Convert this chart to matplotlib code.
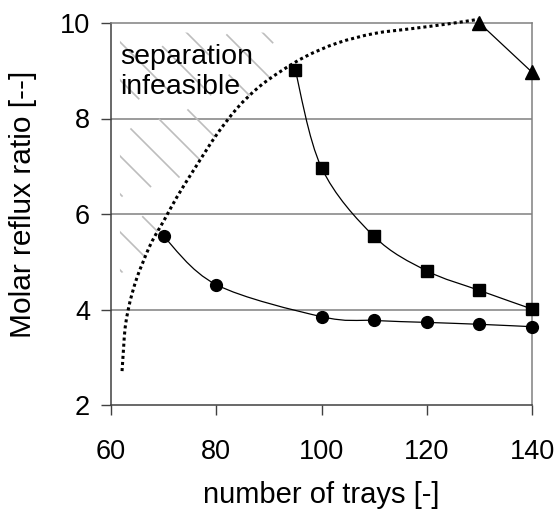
import numpy as np
import matplotlib
matplotlib.use("Agg")
import matplotlib.pyplot as plt
from matplotlib.path import Path
from matplotlib.patches import PathPatch, Polygon
from matplotlib.transforms import IdentityTransform

plt.rcParams["font.family"] = ["Liberation Sans", "DejaVu Sans"]
plt.rcParams["lines.scale_dashes"] = False

# --- data ---
trays_circle = [70, 80, 100, 110, 120, 130, 140]
reflux_circle = [5.53, 4.52, 3.85, 3.77, 3.73, 3.69, 3.64]

trays_square = [95, 100, 110, 120, 130, 140]
reflux_square = [9.02, 6.97, 5.53, 4.81, 4.40, 4.01]

trays_triangle = [130, 140]
reflux_triangle = [10.0, 8.97]

# minimum reflux boundary (dotted)
trays_min = [62.1, 62.4, 62.7, 63.3, 64, 65, 66, 67.2, 68.5, 70, 72.5, 76,
             80, 84, 88, 92, 97, 103, 110, 117, 124, 130]
reflux_min = [2.71, 3.21, 3.63, 4.01, 4.33, 4.69, 4.97, 5.29, 5.57, 5.85,
              6.35, 6.97, 7.65, 8.22, 8.65, 8.97, 9.3, 9.58, 9.78, 9.88,
              9.98, 10.08]

# hatched "infeasible" area: left, right, top, bottom limits
hatch_left, hatch_right = 61.7, 95
hatch_top, hatch_bottom = 9.8, 4.75

x_ticks = [60, 80, 100, 120, 140]
y_ticks = [2, 4, 6, 8, 10]


def smooth_path(x, y):
    """Excel-like smoothed line (Catmull-Rom as cubic Bezier)."""
    pts = np.column_stack([x, y]).astype(float)
    n = len(pts)
    verts = [pts[0]]
    codes = [Path.MOVETO]
    for i in range(n - 1):
        p0 = pts[max(i - 1, 0)]
        p1 = pts[i]
        p2 = pts[i + 1]
        p3 = pts[min(i + 2, n - 1)]
        verts += [p1 + (p2 - p0) / 6, p2 - (p3 - p1) / 6, p2]
        codes += [Path.CURVE4] * 3
    return Path(verts, codes)


fig = plt.figure(figsize=(5.59, 5.12), dpi=100)
ax = fig.add_axes([111 / 559, 1 - 405 / 512, 421 / 559, 382 / 512])

ax.set_xlim(60, 140)
ax.set_ylim(2, 10)
ax.set_xticks(x_ticks)
ax.set_yticks(y_ticks)

# gridlines
for yv in y_ticks[1:-1]:
    ax.axhline(yv, color="#808080", lw=1.1, zorder=1)

for side in ["top", "right"]:
    ax.spines[side].set_color("#808080")
    ax.spines[side].set_linewidth(1.1)
for side in ["left", "bottom"]:
    ax.spines[side].set_color("#404040")
    ax.spines[side].set_linewidth(1.1)

ax.tick_params(axis="both", direction="out", length=7.2, width=1.0,
               color="#404040", labelsize=19.5)
ax.tick_params(axis="x", pad=17)
ax.tick_params(axis="y", pad=8)

# hatched infeasible region, clipped to the left of the boundary curve
sel = [(t, r) for t, r in zip(trays_min, reflux_min)
       if hatch_bottom <= r and t <= hatch_right]
region = [(hatch_left, hatch_top), (hatch_right, hatch_top)]
region += sel[::-1]
region += [(hatch_left, hatch_bottom)]
clip = Polygon(region, closed=True, facecolor="none", edgecolor="none",
               transform=ax.transData)
ax.add_patch(clip)
for k, c in enumerate(np.arange(-420, 420, 38)):
    xs = np.array([100.0, 560.0])
    ys = 512 - c - xs
    ln, = ax.plot(xs, ys, transform=IdentityTransform(), color="#bdbdbd",
                  lw=1.2, zorder=1.5)
    ln.set_linestyle(((k * 29) % 70, (50, 20)))
    ln.set_clip_path(clip)

ax.text(61.8, 9.55, "separation\ninfeasible", fontsize=20.5, va="top",
        ha="left", zorder=3, linespacing=1.2)

# dotted minimum-reflux curve
ax.add_patch(PathPatch(smooth_path(trays_min, reflux_min), fill=False,
                       edgecolor="black", lw=2.2, linestyle=(0, (2.2, 2.2)),
                       zorder=4, clip_on=False))

# data series
for xs, ys, mk, ms in [(trays_circle, reflux_circle, "o", 8.5),
                       (trays_square, reflux_square, "s", 8.3),
                       (trays_triangle, reflux_triangle, "^", 10)]:
    ax.add_patch(PathPatch(smooth_path(xs, ys), fill=False, edgecolor="black",
                           lw=0.9, zorder=5))
    ax.plot(xs, ys, linestyle="none", marker=mk, markersize=ms, color="black",
            zorder=6, clip_on=False)

ax.set_xlabel("number of trays [-]", fontsize=21)
ax.set_ylabel("Molar reflux ratio [--]", fontsize=21.5)
ax.xaxis.set_label_coords(0.5, -0.2)
ax.yaxis.set_label_coords(-0.176, 0.526)

fig.savefig("out.png", dpi=100)
